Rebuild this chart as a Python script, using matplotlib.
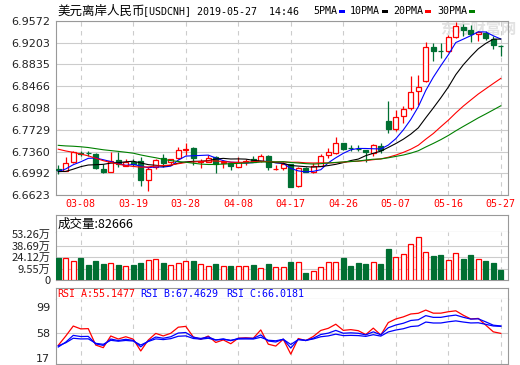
# --------------------------------------------
# IMPORTS
# --------------------------------------------

import numpy as np
import pandas as pd
import matplotlib
matplotlib.use("Agg")
import matplotlib.pyplot as plt
from matplotlib.patches import Rectangle


# --------------------------------------------
# DATA
# --------------------------------------------

# USDCNH daily candles, 2019-03-05 .. 2019-05-27
opens = [6.7064, 6.7035, 6.7182, 6.7335, 6.7340, 6.7318, 6.7059, 6.7018, 6.7216, 6.7120,
         6.7175, 6.7205, 6.6877, 6.7100, 6.7255, 6.7187, 6.7245, 6.7390, 6.7415, 6.7190,
         6.7187, 6.7272, 6.7170, 6.7170, 6.7103, 6.7185, 6.7228, 6.7199, 6.7284, 6.7060,
         6.7075, 6.7148, 6.6781, 6.7086, 6.7018, 6.7115, 6.7296, 6.7340, 6.7499, 6.7425,
         6.7410, 6.7380, 6.7335, 6.7449, 6.7882, 6.7742, 6.7957, 6.8098, 6.8381, 6.8550,
         6.9132, 6.9070, 6.9059, 6.9301, 6.9465, 6.9425, 6.9352, 6.9369, 6.9267, 6.9150]
highs = [6.7132, 6.7262, 6.7375, 6.7369, 6.7375, 6.7335, 6.7148, 6.7347, 6.7357, 6.7230,
         6.7230, 6.7262, 6.7098, 6.7233, 6.7318, 6.7230, 6.7442, 6.7500, 6.7430, 6.7240,
         6.7301, 6.7280, 6.7216, 6.7190, 6.7272, 6.7240, 6.7284, 6.7310, 6.7295, 6.7132,
         6.7190, 6.7155, 6.7103, 6.7095, 6.7160, 6.7313, 6.7425, 6.7611, 6.7510, 6.7476,
         6.7476, 6.7390, 6.7490, 6.7504, 6.8221, 6.8069, 6.8126, 6.8645, 6.8662, 6.9211,
         6.9199, 6.9199, 6.9335, 6.9555, 6.9521, 6.9510, 6.9408, 6.9398, 6.9313, 6.9170]
lows = [6.6979, 6.7030, 6.7165, 6.7284, 6.7290, 6.7070, 6.7000, 6.7010, 6.7103, 6.7110,
        6.7120, 6.6781, 6.6696, 6.7060, 6.7103, 6.7150, 6.7235, 6.7301, 6.7132, 6.7080,
        6.7180, 6.6991, 6.7081, 6.7047, 6.7095, 6.7132, 6.7180, 6.7190, 6.7047, 6.7047,
        6.7047, 6.6760, 6.6759, 6.7010, 6.7001, 6.7110, 6.7255, 6.7326, 6.7380, 6.7364,
        6.7374, 6.7182, 6.7284, 6.7335, 6.7674, 6.7703, 6.7843, 6.8069, 6.8154, 6.8538,
        6.8889, 6.8945, 6.9050, 6.9290, 6.9313, 6.9216, 6.9238, 6.9255, 6.9103, 6.8974]
closes = [6.7047, 6.7160, 6.7360, 6.7325, 6.7330, 6.7076, 6.7013, 6.7205, 6.7148, 6.7187,
          6.7150, 6.6877, 6.7064, 6.7220, 6.7170, 6.7228, 6.7386, 6.7410, 6.7245, 6.7200,
          6.7255, 6.7143, 6.7180, 6.7115, 6.7187, 6.7192, 6.7187, 6.7289, 6.7103, 6.7068,
          6.7148, 6.6764, 6.7076, 6.7018, 6.7115, 6.7284, 6.7352, 6.7499, 6.7395, 6.7415,
          6.7400, 6.7347, 6.7476, 6.7381, 6.7742, 6.7940, 6.8086, 6.8369, 6.8454, 6.9126,
          6.9059, 6.9060, 6.9296, 6.9493, 6.9415, 6.9352, 6.9386, 6.9284, 6.9170, 6.9143]

# closes before 03-05 (only used to warm up the moving averages and RSI)
closes_before = [6.745, 6.752, 6.760, 6.771, 6.765, 6.758, 6.762, 6.755, 6.763, 6.764,
                 6.776, 6.782, 6.790, 6.795, 6.788, 6.785, 6.780, 6.772, 6.765, 6.747,
                 6.712, 6.698, 6.690, 6.705, 6.7025, 6.695, 6.700, 6.708, 6.7035]

# volume, in 万
volumes = [22.9, 23.8, 19.6, 23.8, 14.6, 19.6, 15.8, 16.7, 14.6, 13.3,
           14.6, 17.5, 20.9, 22.1, 17.5, 14.6, 16.7, 19.6, 19.6, 15.4,
           13.3, 15.8, 13.3, 13.3, 13.3, 13.3, 14.6, 10.8, 15.8, 11.6,
           12.5, 17.9, 18.8, 4.1, 7.5, 11.6, 17.9, 18.8, 23.8, 13.3,
           16.7, 15.4, 17.9, 15.4, 34.7, 25.0, 28.0, 40.5, 49.3, 30.5,
           25.9, 27.1, 20.9, 29.2, 22.1, 27.1, 22.1, 19.6, 17.5, 8.27]

price_ticks = [6.6623, 6.6992, 6.7360, 6.7729, 6.8098, 6.8466, 6.8835, 6.9203, 6.9572]
date_ticks = ["03-08", "03-19", "03-28", "04-08", "04-17", "04-26", "05-07", "05-16", "05-27"]
vol_ticks = [9.55, 24.12, 38.69, 53.26]
rsi_ticks = [17, 58, 99]

ma_periods = [5, 10, 20, 30]
ma_names = ["5PMA", "10PMA", "20PMA", "30PMA"]
ma_colors = ["#0000ff", "#000000", "#ff0000", "#008000"]

rsi_periods = [6, 12, 24]
rsi_names = ["RSI_A:55.1477", "RSI_B:67.4629", "RSI_C:66.0181"]
rsi_colors = ["#ff0000", "#0000ff", "#0000ff"]

title_cn = "美元离岸人民币"
title_en = "[USDCNH] 2019-05-27  14:46"
vol_title = "成交量:82666"


# --------------------------------------------
# FUNCTIONS
# --------------------------------------------

W, H = 520, 365
UP = "#ff0000"
DOWN = "#006f32"
GRID = "#cccccc"
FRAME = "#999999"
CJK = ["Noto Sans CJK SC", "DejaVu Sans"]
MONO = "DejaVu Sans Mono"


def box(left, top, right, bottom):
    # pixel box -> figure fraction
    return [left / W, 1 - bottom / H, (right - left) / W, (bottom - top) / H]


def sma(series, n, m=1):
    return series.ewm(alpha=m / n, adjust=False).mean()


def calc_rsi(close, n):
    diff = close.diff().fillna(0)
    up = sma(diff.clip(lower=0), n)
    total = sma(diff.abs(), n)
    return up / total * 100


def style_frame(ax):
    for sp in ax.spines.values():
        sp.set_color(FRAME)
        sp.set_linewidth(0.8)
    ax.tick_params(length=0, labelsize=8, colors="#222222")


def date_grid(ax, positions):
    for x in positions:
        ax.axvline(x, color=GRID, linestyle=(0, (4, 4)), linewidth=0.8, zorder=0)


# --------------------------------------------
# APPLICATION
# --------------------------------------------

n = len(closes)
xs = np.arange(n)
day_labels = list(pd.bdate_range("2019-03-05", "2019-05-27").strftime("%m-%d"))
tick_pos = [day_labels.index(d) for d in date_ticks]
rising = [c >= o for o, c in zip(opens, closes)]

full_close = pd.Series(closes_before + closes)
mas = [full_close.rolling(p).mean().iloc[-n:].values for p in ma_periods]
rsis = [calc_rsi(full_close, p).iloc[-n:].values for p in rsi_periods]

fig = plt.figure(figsize=(W / 100, H / 100), dpi=100)
fig.patch.set_facecolor("white")

# ---- price panel ----
ax = fig.add_axes(box(56, 21, 508, 195))
style_frame(ax)
ax.set_xlim(-0.3, n - 0.04)
ax.set_ylim(price_ticks[0], price_ticks[-1])
ax.set_yticks(price_ticks)
ax.set_yticklabels([f"{t:.4f}" for t in price_ticks])
ax.yaxis.grid(True, color=GRID, linewidth=0.8)
ax.set_axisbelow(True)
date_grid(ax, tick_pos)
ax.set_xticks(tick_pos)
ax.set_xticklabels(date_ticks, color=UP, family=MONO, fontsize=7.2)
ax.tick_params(axis="x", pad=3)
ax.tick_params(axis="y", pad=4)

body_w = 0.66
for i in range(n):
    col = UP if rising[i] else DOWN
    ax.vlines(xs[i], lows[i], highs[i], color=col, linewidth=0.9, zorder=2)
    lo, hi = min(opens[i], closes[i]), max(opens[i], closes[i])
    if hi - lo < 0.0004:
        ax.hlines((lo + hi) / 2, xs[i] - body_w / 2, xs[i] + body_w / 2, color=col, linewidth=1.0, zorder=3)
    else:
        ax.add_patch(Rectangle((xs[i] - body_w / 2, lo), body_w, hi - lo,
                               facecolor="white" if rising[i] else DOWN,
                               edgecolor=col, linewidth=0.9, zorder=3))

for ma, col in zip(mas, ma_colors):
    ax.plot(xs, ma, color=col, linewidth=0.8, zorder=4)

ax.text(0.935, 0.955, "东方财富网", transform=ax.transAxes, ha="center", va="center",
        family=CJK, fontsize=11, color="#e2e2e2", fontweight="bold", zorder=1)

# title + MA legend
fig.text(57 / W, 1 - 11 / H, title_cn, family=CJK, fontsize=9, va="center", ha="left")
fig.text(143 / W, 1 - 11 / H, title_en, family=MONO, fontsize=7.2, va="center", ha="left")
legend_x = [313, 350, 393, 437]
fig.canvas.draw()
for lx, name, col in zip(legend_x, ma_names, ma_colors):
    t = fig.text(lx / W, 1 - 11 / H, name, family=MONO, fontsize=7.2, va="center", ha="left")
    bb = t.get_window_extent(renderer=fig.canvas.get_renderer())
    fig.patches.append(Rectangle((bb.x1 + 2, H - 13), 6, 3, facecolor=col, edgecolor="none",
                                 transform=None, figure=fig))

# ---- volume panel ----
vhead = fig.add_axes(box(56, 215, 508, 232))
style_frame(vhead)
vhead.set_xticks([])
vhead.set_yticks([])
vhead.text(0.003, 0.45, vol_title, transform=vhead.transAxes, family=CJK, fontsize=9,
           va="center", ha="left")

vol_floor = -4.27
vax = fig.add_axes(box(56, 232, 508, 280))
style_frame(vax)
vax.spines["top"].set_visible(False)
vax.set_xlim(-0.3, n - 0.04)
vax.set_ylim(vol_floor, 55.8)
vax.set_xticks([])
vax.set_yticks([vol_floor] + vol_ticks)
vax.set_yticklabels(["0"] + [f"{t:.2f}万" for t in vol_ticks], family=CJK, fontsize=8)
vax.tick_params(axis="y", pad=4)
for t in vol_ticks[:-1]:
    vax.axhline(t, color=GRID, linewidth=0.8, zorder=0)
date_grid(vax, tick_pos)
vol_h = [v - vol_floor for v in volumes]
vax.bar(xs, vol_h, bottom=vol_floor, width=0.72,
        color=["white" if r else DOWN for r in rising],
        edgecolor=[UP if r else DOWN for r in rising], linewidth=0.9, zorder=3)

# ---- RSI panel ----
rhead = fig.add_axes(box(56, 288, 508, 298.5))
style_frame(rhead)
rhead.set_xticks([])
rhead.set_yticks([])
head_x = [0.003, 0.187, 0.376]
for hx, name, col in zip(head_x, rsi_names, rsi_colors):
    rhead.text(hx, 0.45, name, transform=rhead.transAxes, family=MONO,
               fontsize=7.2, color=col, va="center", ha="left")

rax = fig.add_axes(box(56, 298.5, 508, 364))
style_frame(rax)
rax.spines["top"].set_visible(False)
rax.set_xlim(-0.3, n - 0.04)
rax.set_ylim(8.2, 112.5)
rax.set_xticks([])
rax.set_yticks(rsi_ticks)
rax.tick_params(axis="y", pad=4)
rax.axhline(58, color=GRID, linewidth=0.8, zorder=0)
date_grid(rax, tick_pos)
for r, col in zip(rsis, rsi_colors):
    rax.plot(xs, r, color=col, linewidth=0.9, zorder=3)

fig.savefig("out.png", dpi=100, facecolor="white")
